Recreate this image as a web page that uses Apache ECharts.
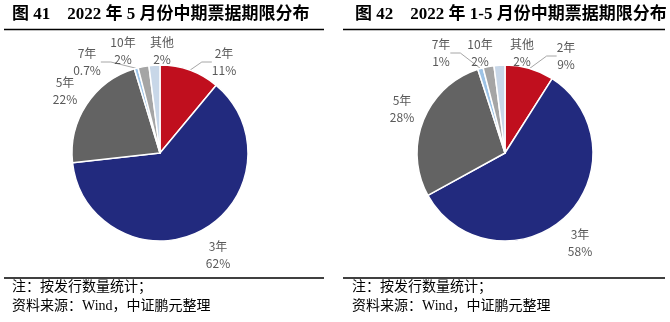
<!DOCTYPE html>
<html><head><meta charset="utf-8">
<script src="https://cdn.jsdelivr.net/npm/echarts@6/dist/echarts.min.js"></script>
<style>html,body{margin:0;padding:0;background:#fff}#c{width:670px;height:322px}</style>
</head><body><div id="c"></div>
<script>
var categories = ['2年', '3年', '5年', '7年', '10年', '其他'];
var valuesMay = [11, 62, 22, 0.7, 2, 2];
var valuesJanMay = [9, 58, 28, 1, 2, 2];
var colors = ['#C00F1E', '#222A7E', '#636363', '#9DC3E6', '#A5A5A5', '#C8D7E8'];
var titles = ['图 41    2022 年 5 月份中期票据期限分布', '图 42    2022 年 1-5 月份中期票据期限分布'];
var note1 = '注：按发行数量统计；';
var note2 = '资料来源：Wind，中证鹏元整理';

// label placement (styles, not data): centre of each label block, and whether a leader line shows
var labelPosMay = [[224, 62], [218, 255], [65, 91], [87, 62], [123, 51], [162, 51]];
var labelLineMay = [true, false, false, true, false, false];
var labelPosJanMay = [[566, 56], [580, 243], [402, 109], [441, 53], [480, 53], [522, 53]];
var labelLineJanMay = [true, false, false, true, true, false];

function mk(vals, lines) {
  return categories.map(function (c, i) {
    return { name: c, value: vals[i], labelLine: { show: lines[i] } };
  });
}
function pie(vals, cx, pos, lines) {
  return {
    type: 'pie', radius: 88, center: [cx, 153], startAngle: 90, clockwise: true,
    data: mk(vals, lines), color: colors,
    itemStyle: { borderColor: '#fff', borderWidth: 1.5 },
    label: { formatter: function (p) { return p.name + '\n' + p.value + '%'; }, color: '#595959',
      fontSize: 12, lineHeight: 17, fontFamily: 'Noto Sans CJK SC', align: 'center' },
    labelLine: { length: 6, length2: 10, lineStyle: { color: '#a6a6a6', width: 1 } },
    labelLayout: function (p) {
      var q = pos[p.dataIndex];
      return { x: q[0], y: q[1], align: 'center', verticalAlign: 'middle' };
    },
    emphasis: { disabled: true }, animation: false
  };
}
var chart = echarts.init(document.getElementById('c'));
var tf = { fontFamily: 'Liberation Serif, Noto Sans CJK SC', fontWeight: 'bold', fontSize: 17, fill: '#000' };
var nf = { fontFamily: 'Liberation Serif, Noto Sans CJK SC', fontSize: 14, fill: '#000' };
chart.setOption({
  backgroundColor: '#fff',
  series: [pie(valuesMay, 160, labelPosMay, labelLineMay), pie(valuesJanMay, 505, labelPosJanMay, labelLineJanMay)],
  graphic: [
    { type: 'text', left: 12, top: 6, style: Object.assign({ text: titles[0] }, tf) },
    { type: 'text', left: 355, top: 6, style: Object.assign({ text: titles[1] }, tf) },
    { type: 'line', shape: { x1: 4, y1: 29.5, x2: 324, y2: 29.5 }, style: { stroke: '#000', lineWidth: 1.3 } },
    { type: 'line', shape: { x1: 343, y1: 29.5, x2: 665, y2: 29.5 }, style: { stroke: '#000', lineWidth: 1.3 } },
    { type: 'line', shape: { x1: 4, y1: 278, x2: 324, y2: 278 }, style: { stroke: '#000', lineWidth: 1.3 } },
    { type: 'line', shape: { x1: 343, y1: 278, x2: 665, y2: 278 }, style: { stroke: '#000', lineWidth: 1.3 } },
    { type: 'text', left: 12, top: 280, style: Object.assign({ text: note1 }, nf) },
    { type: 'text', left: 12, top: 299, style: Object.assign({ text: note2 }, nf) },
    { type: 'text', left: 352, top: 280, style: Object.assign({ text: note1 }, nf) },
    { type: 'text', left: 352, top: 299, style: Object.assign({ text: note2 }, nf) }
  ]
});
</script></body></html>
